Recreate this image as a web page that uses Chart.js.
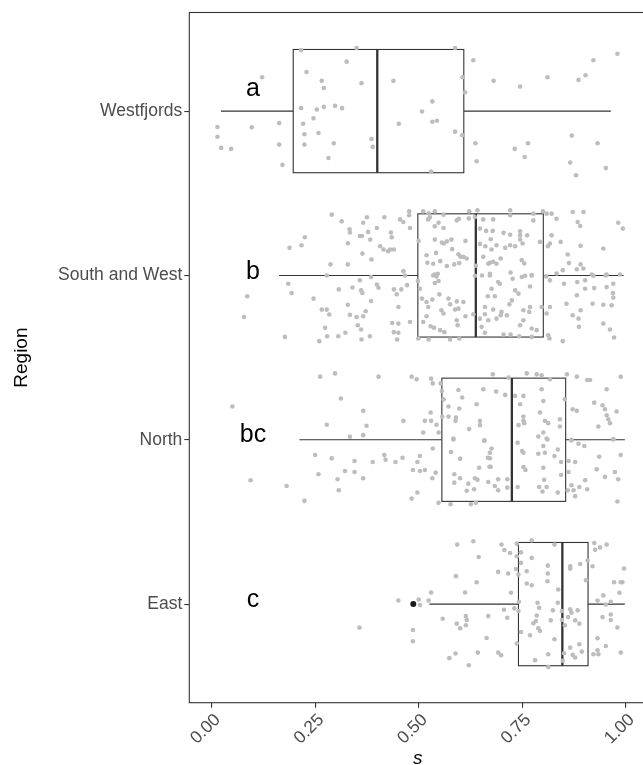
<!DOCTYPE html>
<html><head><meta charset="utf-8">
<script src="https://cdn.jsdelivr.net/npm/chart.js@4.4.0/dist/chart.umd.min.js"></script>
<style>html,body{margin:0;padding:0;overflow:hidden;background:#fff;width:643px;height:765px}canvas{display:block}</style>
</head><body><canvas id="c" width="650" height="765"></canvas>
<script>
// ---- data ----
const regions = ['Westfjords','South and West','North','East'];
const regionPos = [4,3,2,1];
const q1 = [0.197,0.498,0.556,0.741];
const medians = [0.400,0.638,0.725,0.847];
const q3 = [0.609,0.801,0.855,0.909];
const whiskerLow = [0.0225,0.163,0.212,0.526];
const whiskerHigh = [0.964,0.995,0.998,0.998];
const outliers = [[],[],[],[0.487]];
const groupLetters = ['a','b','bc','c'];
const letterS = [0.1,0.1,0.1,0.1];
const letterOffset = [0.089,-0.02,-0.016,-0.018];
const xTicks = [0,0.25,0.5,0.75,1];

// jittered observations: [s, vertical jitter]
const westfjordsPts = [[0.122,0.206],[0.014,-0.097],[0.014,-0.156],[0.023,-0.224],[0.047,-0.230],[0.097,-0.099],[0.163,-0.073],[0.163,-0.204],[0.171,-0.327],[0.216,0.372],
[0.350,0.384],[0.229,0.238],[0.326,0.301],[0.266,0.184],[0.271,0.141],[0.362,0.170],[0.216,0.018],[0.254,0.010],[0.271,0.026],[0.298,0.032],
[0.315,0.018],[0.246,-0.044],[0.221,-0.077],[0.224,-0.141],[0.258,-0.133],[0.224,-0.204],[0.295,-0.196],[0.282,-0.285],[0.386,-0.170],[0.389,-0.218],
[0.588,0.384],[0.439,0.184],[0.533,0.059],[0.508,-0.002],[0.452,-0.077],[0.533,-0.065],[0.544,-0.059],[0.588,-0.125],[0.606,0.206],[0.612,0.115],
[0.605,-0.147],[0.530,-0.368],[0.632,0.309],[0.681,0.184],[0.745,0.149],[0.811,0.206],[0.886,0.190],[0.903,0.218],[0.922,0.309],[0.980,0.349],
[0.637,-0.196],[0.640,-0.305],[0.732,-0.230],[0.764,-0.196],[0.756,-0.279],[0.870,-0.149],[0.932,-0.196],[0.866,-0.313],[0.880,-0.390],[0.952,-0.347]];

const southWestPts = [[0.290,0.370],[0.314,0.329],[0.333,0.281],[0.334,0.261],[0.358,0.240],[0.363,0.240],[0.366,0.321],[0.375,0.354],[0.378,0.265],[0.383,0.218],
[0.399,0.289],[0.417,0.354],[0.433,0.261],[0.435,0.232],[0.455,0.341],[0.463,0.325],[0.477,0.390],[0.477,0.366],[0.479,0.289],[0.188,0.168],
[0.217,0.184],[0.225,0.232],[0.329,0.196],[0.364,0.133],[0.386,0.097],[0.407,0.178],[0.415,0.158],[0.426,0.147],[0.431,0.158],[0.440,0.158],
[0.287,0.067],[0.329,0.067],[0.463,0.026],[0.500,0.210],
[0.511,0.390],[0.524,0.378],[0.527,0.354],[0.539,0.390],[0.560,0.370],[0.523,0.341],[0.539,0.299],[0.560,0.289],[0.548,0.321],[0.592,0.335],[0.597,0.345],[0.621,0.347],[0.622,0.390],[0.636,0.356],
[0.539,0.218],[0.556,0.200],[0.561,0.194],[0.568,0.208],[0.579,0.218],[0.613,0.210],[0.581,0.160],[0.519,0.123],[0.542,0.137],[0.596,0.129],[0.601,0.113],[0.608,0.113],[0.616,0.103],
[0.521,0.077],[0.535,0.071],[0.552,0.087],[0.568,0.057],[0.586,0.067],[0.598,0.075],[0.638,0.059],[0.539,0.006],[0.546,0.010],[0.636,-0.002],
[0.642,0.396],[0.656,0.341],[0.680,0.341],[0.721,0.396],[0.721,0.366],[0.777,0.376],[0.800,0.390],[0.777,0.335],[0.648,0.285],[0.663,0.271],[0.679,0.271],[0.705,0.259],[0.721,0.248],[0.745,0.269],[0.745,0.244],[0.762,0.244],
[0.648,0.192],[0.661,0.178],[0.674,0.220],[0.676,0.158],[0.688,0.184],[0.709,0.168],[0.721,0.184],[0.733,0.178],[0.745,0.218],[0.751,0.194],[0.793,0.204],
[0.656,0.113],[0.668,0.071],[0.672,0.077],[0.680,0.083],[0.688,0.071],[0.698,0.103],[0.749,0.093],[0.755,0.073],[0.672,0.010],[0.722,0.018],[0.757,-0.002],[0.773,0.002],
[0.809,0.376],[0.821,0.376],[0.833,0.345],[0.872,0.386],[0.898,0.386],[0.884,0.325],[0.890,0.301],[0.982,0.321],[0.993,0.285],[0.821,0.244],[0.817,0.194],[0.812,0.178],[0.843,0.204],[0.891,0.180],[0.946,0.164],[0.860,0.127],[0.863,0.075],[0.891,0.067],[0.898,0.042],[0.882,0.038],[0.848,0.032],[0.833,0.012],[0.918,0.006],[0.954,0.006],[0.986,0.006],
[0.086,-0.127],[0.078,-0.253],[0.185,-0.051],[0.193,-0.107],[0.246,-0.141],[0.266,-0.208],[0.278,-0.208],[0.284,-0.238],[0.274,-0.319],[0.177,-0.374],[0.260,-0.400],[0.279,-0.370],[0.306,-0.370],[0.323,-0.349],[0.278,0.0],[0.307,-0.085],[0.340,-0.073],[0.358,-0.030],[0.361,-0.091],[0.364,-0.107],[0.329,-0.178],[0.334,-0.240],[0.350,-0.253],[0.366,-0.248],[0.372,-0.218],[0.385,-0.156],[0.385,-0.010],[0.399,-0.055],[0.403,-0.075],[0.353,-0.303],[0.361,-0.329],[0.362,-0.390],[0.382,-0.370],[0.440,-0.085],[0.447,-0.115],[0.458,-0.085],[0.472,-0.059],[0.451,-0.192],[0.436,-0.289],[0.451,-0.293],[0.440,-0.345],[0.451,-0.349],[0.448,-0.390],[0.479,-0.283],[0.467,0.0],
[0.498,-0.034],[0.503,-0.081],[0.508,-0.141],[0.519,-0.162],[0.523,-0.192],[0.533,-0.147],[0.539,-0.046],[0.548,-0.034],[0.550,-0.115],[0.555,-0.212],[0.560,-0.232],[0.572,-0.141],[0.576,-0.176],[0.588,-0.208],[0.592,-0.158],[0.596,-0.202],[0.608,-0.162],[0.613,-0.248],[0.519,-0.248],[0.511,-0.283],[0.529,-0.309],[0.537,-0.319],[0.552,-0.333],[0.562,-0.345],[0.592,-0.273],[0.594,-0.303],[0.632,-0.236],[0.499,-0.384],[0.524,-0.390],[0.576,-0.390],[0.598,-0.384],[0.535,0.0],[0.543,-0.006],
[0.653,0.0],[0.672,0.0],[0.692,-0.040],[0.696,-0.051],[0.727,-0.020],[0.749,-0.010],[0.773,0.0],[0.676,-0.081],[0.667,-0.127],[0.684,-0.127],[0.769,-0.067],[0.733,-0.091],[0.725,-0.152],[0.719,-0.176],[0.741,-0.111],[0.660,-0.192],[0.680,-0.208],[0.700,-0.222],[0.713,-0.242],[0.753,-0.212],[0.769,-0.192],[0.767,-0.222],[0.648,-0.263],[0.660,-0.236],[0.668,-0.273],[0.688,-0.263],[0.698,-0.242],[0.753,-0.273],[0.745,-0.303],[0.773,-0.323],[0.785,-0.333],[0.652,-0.313],[0.660,-0.349],[0.705,-0.360],[0.722,-0.360],[0.743,-0.370],[0.773,-0.374],[0.797,-0.192],
[0.808,-0.006],[0.817,-0.030],[0.851,-0.051],[0.883,-0.040],[0.902,-0.030],[0.922,-0.002],[0.952,0.0],[0.970,-0.051],[0.954,-0.071],[0.902,-0.081],[0.924,-0.077],[0.882,-0.121],[0.969,-0.107],[0.970,-0.135],[0.857,-0.172],[0.920,-0.172],[0.946,-0.178],[0.966,-0.182],[0.817,-0.192],[0.809,-0.232],[0.872,-0.242],[0.891,-0.212],[0.886,-0.263],[0.887,-0.313],[0.946,-0.293],[0.962,-0.329],[0.813,-0.364],[0.816,-0.384],[0.848,-0.400],[0.972,-0.378]];

const northPts = [[0.050,0.202],[0.262,0.384],[0.298,0.404],[0.403,0.384],[0.483,0.384],[0.495,0.368],[0.530,0.372],[0.534,0.343],[0.312,0.251],[0.366,0.176],
[0.278,0.091],[0.374,0.085],[0.366,0.028],[0.334,0.018],[0.463,0.115],[0.515,0.115],[0.529,0.166],[0.530,0.115],[0.543,0.091],[0.548,0.044],[0.511,0.044],
[0.553,0.343],[0.556,0.297],[0.560,0.246],[0.557,0.141],[0.572,0.202],[0.572,0.141],[0.590,0.135],[0.589,0.115],[0.596,0.303],[0.605,0.257],[0.598,0.190],
[0.640,0.216],[0.648,0.115],[0.648,0.089],[0.622,0.065],[0.656,0.307],[0.687,0.293],[0.709,0.273],[0.679,0.398],[0.717,0.378],[0.584,0.008],[0.658,-0.006],
[0.761,0.404],[0.785,0.398],[0.797,0.392],[0.817,0.368],[0.733,0.267],[0.753,0.267],[0.745,0.216],[0.801,0.236],[0.797,0.307],[0.793,0.166],[0.753,0.141],
[0.753,0.115],[0.741,0.089],[0.755,0.101],[0.805,0.115],[0.813,0.101],[0.841,0.125],[0.841,0.081],[0.853,0.246],[0.789,0.020],[0.801,0.044],[0.809,0.008],
[0.858,0.398],[0.882,0.384],[0.907,0.364],[0.914,0.364],[0.988,0.384],[0.954,0.307],[0.872,0.186],[0.882,0.176],[0.924,0.226],[0.944,0.210],[0.950,0.186],
[0.954,0.149],[0.958,0.125],[0.962,0.101],[0.978,0.172],[0.934,0.081],[0.970,0.004],[0.869,0.0],
[0.094,-0.246],[0.181,-0.281],[0.224,-0.372],[0.250,-0.093],[0.258,-0.210],[0.290,-0.113],[0.304,-0.240],[0.307,-0.307],[0.322,-0.190],[0.345,-0.129],
[0.345,-0.196],[0.366,-0.234],[0.389,-0.135],[0.417,-0.093],[0.420,-0.121],[0.444,-0.135],[0.461,-0.109],[0.483,-0.358],[0.497,-0.321],[0.497,-0.135],
[0.503,-0.099],[0.486,-0.184],[0.503,-0.190],[0.515,-0.184],[0.534,-0.053],[0.533,-0.234],[0.541,-0.200],[0.548,-0.384],[0.577,-0.392],[0.578,-0.075],
[0.584,0.002],[0.600,-0.115],[0.586,-0.210],[0.600,-0.234],[0.586,-0.261],[0.620,-0.267],[0.616,-0.311],[0.634,-0.301],[0.636,-0.234],[0.642,-0.244],
[0.646,-0.170],[0.626,-0.392],[0.638,-0.384],[0.659,-0.004],[0.668,-0.257],[0.667,-0.109],[0.672,-0.113],[0.671,-0.164],[0.674,-0.164],[0.672,-0.079],
[0.676,-0.053],[0.684,-0.281],[0.692,-0.307],[0.692,-0.240],[0.714,-0.240],[0.714,-0.291],[0.739,-0.018],[0.750,-0.069],[0.753,-0.079],[0.753,-0.166],
[0.758,-0.184],[0.739,-0.287],[0.789,-0.085],[0.805,-0.079],[0.801,-0.038],[0.811,0.002],[0.836,-0.059],[0.828,-0.099],[0.801,-0.170],[0.803,-0.244],
[0.791,-0.287],[0.809,-0.287],[0.799,-0.315],[0.836,-0.321],[0.844,-0.135],[0.844,-0.214],[0.862,-0.129],[0.862,-0.196],[0.878,-0.135],[0.869,-0.004],
[0.886,-0.024],[0.900,-0.038],[0.860,-0.307],[0.869,-0.277],[0.874,-0.307],[0.878,-0.343],[0.888,-0.287],[0.902,-0.246],[0.907,-0.301],[0.936,-0.103],
[0.930,-0.180],[0.950,-0.226],[0.974,-0.196],[0.982,-0.240],[0.988,-0.093],[0.980,-0.376],[0.970,0.002]];

const eastPts = [[0.593,0.362],[0.632,0.382],[0.645,0.287],[0.590,0.170],[0.640,0.133],[0.612,0.071],[0.530,0.071],[0.451,0.022],[0.500,0.028],[0.503,-0.006],
[0.524,0.022],[0.357,-0.143],[0.486,-0.158],[0.486,-0.226],[0.558,-0.089],[0.592,-0.119],[0.600,-0.147],[0.614,-0.073],[0.614,-0.129],[0.616,-0.097],
[0.668,-0.073],[0.664,-0.206],[0.574,-0.329],[0.589,-0.301],[0.621,-0.372],[0.643,-0.295],[0.692,-0.295],[0.699,-0.311],[0.706,-0.034],[0.714,-0.083],
[0.723,0.069],[0.731,-0.026],[0.692,0.196],[0.716,0.186],[0.700,0.362],[0.707,0.329],[0.721,0.311],[0.737,0.368],[0.747,0.315],[0.737,0.291],
[0.747,0.251],[0.735,0.214],[0.741,0.180],[0.773,0.388],[0.773,0.281],[0.761,0.200],[0.761,0.125],[0.773,0.115],[0.812,0.234],[0.812,0.186],
[0.811,0.139],[0.828,0.362],[0.837,0.089],[0.742,0.014],[0.741,-0.042],[0.747,-0.170],[0.737,-0.240],[0.787,0.008],[0.791,-0.022],[0.785,-0.069],
[0.783,-0.103],[0.777,-0.117],[0.789,-0.147],[0.793,-0.164],[0.769,-0.190],[0.781,-0.341],[0.813,-0.305],[0.813,-0.382],[0.819,-0.099],[0.824,-0.038],
[0.836,0.008],[0.828,-0.214],[0.846,-0.042],[0.846,-0.097],[0.853,-0.129],[0.848,-0.345],[0.851,-0.299],[0.866,0.230],[0.866,0.216],[0.890,0.244],
[0.908,0.265],[0.904,0.145],[0.920,0.230],[0.924,0.372],[0.926,0.331],[0.938,0.345],[0.954,0.362],[0.866,-0.032],[0.869,-0.053],[0.861,-0.079],
[0.884,-0.038],[0.878,-0.099],[0.888,-0.119],[0.866,-0.265],[0.872,-0.309],[0.878,-0.325],[0.888,-0.244],[0.894,-0.289],[0.922,-0.305],[0.932,-0.281],
[0.934,-0.305],[0.952,-0.255],[0.932,-0.208],[0.988,-0.295],[0.980,-0.143],[0.944,-0.079],[0.964,-0.063],[0.964,-0.097],[0.932,0.022],[0.952,-0.002],
[0.964,0.014],[0.946,0.053],[0.985,0.069],[0.972,0.133],[0.988,0.133],[0.992,0.133],[0.996,0.216]];

const pointsByRegion = [westfjordsPts, southWestPts, northPts, eastPts];

// ---- chart ----
const FONT = "'Liberation Sans', Arial, sans-serif";
const BOX_HALF = 0.375;

const boxPlugin = {
  id: 'boxes',
  beforeDatasetsDraw(chart) {
    const ctx = chart.ctx, xs = chart.scales.x, ys = chart.scales.y;
    ctx.save();
    ctx.strokeStyle = '#333333';
    regions.forEach((r, i) => {
      const yc = ys.getPixelForValue(regionPos[i]);
      const yt = ys.getPixelForValue(regionPos[i] + BOX_HALF);
      const yb = ys.getPixelForValue(regionPos[i] - BOX_HALF);
      const xl = xs.getPixelForValue(q1[i]), xr = xs.getPixelForValue(q3[i]);
      const xm = xs.getPixelForValue(medians[i]);
      const wl = xs.getPixelForValue(whiskerLow[i]), wh = xs.getPixelForValue(whiskerHigh[i]);
      ctx.lineWidth = 1.1;
      ctx.beginPath();
      ctx.moveTo(wl, yc); ctx.lineTo(xl, yc);
      ctx.moveTo(xr, yc); ctx.lineTo(wh, yc);
      ctx.stroke();
      ctx.fillStyle = '#ffffff';
      ctx.fillRect(xl, yt, xr - xl, yb - yt);
      ctx.strokeRect(xl, yt, xr - xl, yb - yt);
      ctx.lineWidth = 2.3;
      ctx.beginPath(); ctx.moveTo(xm, yt); ctx.lineTo(xm, yb); ctx.stroke();
      ctx.fillStyle = '#1a1a1a';
      outliers[i].forEach(v => {
        ctx.beginPath(); ctx.arc(xs.getPixelForValue(v), yc, 3, 0, Math.PI * 2); ctx.fill();
      });
    });
    ctx.restore();
  },
  afterDatasetsDraw(chart) {
    const ctx = chart.ctx, xs = chart.scales.x, ys = chart.scales.y, a = chart.chartArea;
    ctx.save();
    ctx.fillStyle = '#000';
    ctx.font = '25px ' + FONT;
    ctx.textAlign = 'center';
    ctx.textBaseline = 'alphabetic';
    groupLetters.forEach((t, i) => {
      ctx.fillText(t, xs.getPixelForValue(letterS[i]), ys.getPixelForValue(regionPos[i] + letterOffset[i]));
    });
    ctx.strokeStyle = '#333333';
    ctx.lineWidth = 1.1;
    ctx.strokeRect(a.left, a.top, a.right - a.left, a.bottom - a.top);
    ctx.restore();
  }
};

const datasets = pointsByRegion.map((pts, i) => ({
  label: regions[i],
  data: pts.map(p => ({x: p[0], y: regionPos[i] + p[1]})),
  backgroundColor: '#bdbdbd',
  borderWidth: 0,
  pointRadius: 2.3,
  pointHoverRadius: 2.3
}));

new Chart(document.getElementById('c'), {
  type: 'scatter',
  data: { datasets },
  plugins: [boxPlugin],
  options: {
    responsive: false,
    animation: false,
    layout: { padding: { top: 10, right: 3.6, left: 0, bottom: 0 } },
    plugins: { legend: { display: false }, tooltip: { enabled: false } },
    scales: {
      x: {
        type: 'linear', min: -0.054, max: 1.05,
        afterBuildTicks(s) { s.ticks = xTicks.map(v => ({ value: v })); },
        afterFit(s) { s.height = 62.3; },
        grid: { drawOnChartArea: false, drawTicks: true, tickLength: 5, color: '#333333', lineWidth: 1.1 },
        border: { display: false },
        ticks: {
          autoSkip: false, minRotation: 45, maxRotation: 45, padding: 2, labelOffset: 6,
          color: '#4d4d4d', font: { family: FONT, size: 17.5 },
          callback: v => Number(v).toFixed(2)
        },
        title: { display: true, text: 's', color: '#000', font: { family: FONT, size: 19, style: 'italic', lineHeight: 0.7 }, padding: { top: 0, bottom: 0 } }
      },
      y: {
        type: 'linear', min: 0.4, max: 4.6,
        afterBuildTicks(s) { s.ticks = regionPos.map(v => ({ value: v })); },
        afterFit(s) { s.width = 189.3; },
        grid: { drawOnChartArea: false, drawTicks: true, tickLength: 5, color: '#333333', lineWidth: 1.1 },
        border: { display: false },
        ticks: {
          autoSkip: false, padding: 2, color: '#4d4d4d', font: { family: FONT, size: 17.5 },
          callback: v => regions[regionPos.indexOf(v)]
        },
        title: { display: true, text: 'Region', color: '#000', font: { family: FONT, size: 19, lineHeight: 1 }, padding: { top: 12, bottom: 0 } }
      }
    }
  }
});
</script>
</body></html>
